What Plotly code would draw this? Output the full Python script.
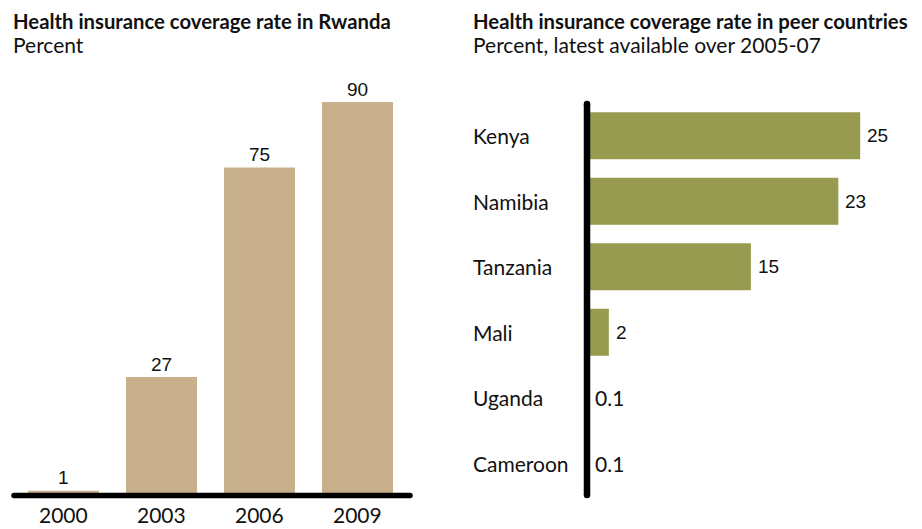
import plotly.graph_objects as go

# Rwanda coverage over time
years = ["2000", "2003", "2006", "2009"]
rwanda_pct = [1, 27, 75, 90]

# Peer countries, latest available 2005-07
countries = ["Kenya", "Namibia", "Tanzania", "Mali", "Uganda", "Cameroon"]
peer_pct = [25, 23, 15, 2, 0.1, 0.1]
peer_labels = ["25", "23", "15", "2", "0.1", "0.1"]

W, H = 922, 529
TAN = "#C7B08B"
OLIVE = "#969B50"
INK = "#111111"
LABEL_FONT = "Lato"
VALUE_FONT = "Liberation Sans"


def px(xp):
    return xp / W


def py(yp):
    return 1 - yp / H


fig = go.Figure()

fig.add_trace(go.Bar(
    x=years, y=rwanda_pct, marker=dict(color=TAN, line=dict(width=0)),
    width=0.724, xaxis="x", yaxis="y", hoverinfo="skip",
))
fig.add_trace(go.Bar(
    y=countries, x=peer_pct, orientation="h",
    marker=dict(color=OLIVE, line=dict(width=0)),
    width=0.72, xaxis="x2", yaxis="y2", hoverinfo="skip",
))

annotations = []

# Titles
annotations += [
    dict(x=px(11), y=py(7), xref="paper", yref="paper", xanchor="left", yanchor="top",
         text="<b>Health insurance coverage rate in Rwanda</b>", showarrow=False,
         font=dict(family=LABEL_FONT, size=20.3, color=INK)),
    dict(x=px(11), y=py(30), xref="paper", yref="paper", xanchor="left", yanchor="top",
         text="Percent", showarrow=False,
         font=dict(family=LABEL_FONT, size=21, color=INK)),
    dict(x=px(471), y=py(7), xref="paper", yref="paper", xanchor="left", yanchor="top",
         text="<b>Health insurance coverage rate in peer countries</b>", showarrow=False,
         font=dict(family=LABEL_FONT, size=20.3, color=INK)),
    dict(x=px(471), y=py(30), xref="paper", yref="paper", xanchor="left", yanchor="top",
         text="Percent, latest available over 2005-07", showarrow=False,
         font=dict(family=LABEL_FONT, size=21, color=INK)),
]

# Rwanda value labels and year labels (category positions by index)
for i, (yr, v) in enumerate(zip(years, rwanda_pct)):
    annotations.append(dict(x=i, y=v, xref="x", yref="y", yanchor="middle", yshift=13,
                            text=str(v), showarrow=False,
                            font=dict(family=VALUE_FONT, size=19, color=INK)))
    annotations.append(dict(x=i, y=0, xref="x", yref="paper", yanchor="bottom",
                            text=yr, showarrow=False,
                            font=dict(family=LABEL_FONT, size=21, color=INK)))

# Peer country names (left aligned) and value labels
for c, v, lab in zip(countries, peer_pct, peer_labels):
    annotations.append(dict(x=px(471), y=c, xref="paper", yref="y2", xanchor="left",
                            yanchor="middle", text=c, showarrow=False,
                            font=dict(family=LABEL_FONT, size=21, color=INK)))
    small = v < 1
    annotations.append(dict(x=v, y=c, xref="x2", yref="y2", xanchor="left", yanchor="middle",
                            xshift=5, text=lab, showarrow=False,
                            font=dict(family=LABEL_FONT if small else VALUE_FONT,
                                      size=21 if small else 19, color=INK)))


# Heavy axis lines with rounded ends, drawn in paper space so they are not clipped
def rounded_line(x0p, y0p, x1p, y1p, w):
    r = w / 2
    out = [dict(type="line", xref="paper", yref="paper",
                x0=px(x0p), y0=py(y0p), x1=px(x1p), y1=py(y1p),
                line=dict(color="black", width=w), layer="above")]
    for cx, cy in ((x0p, y0p), (x1p, y1p)):
        out.append(dict(type="circle", xref="paper", yref="paper",
                        x0=px(cx - r), x1=px(cx + r), y0=py(cy + r), y1=py(cy - r),
                        fillcolor="black", line=dict(width=0), layer="above"))
    return out


shapes = rounded_line(14, 495.5, 410, 495.5, 5.5) + rounded_line(587, 104, 587, 495, 6.5)

fig.update_layout(
    width=W, height=H,
    margin=dict(l=0, r=0, t=0, b=0),
    paper_bgcolor="white", plot_bgcolor="white",
    showlegend=False, barmode="group",
    xaxis=dict(domain=[px(12), px(412)], type="category", range=[-0.5255, 3.556],
               showticklabels=False, showgrid=False, zeroline=False, showline=False,
               fixedrange=True),
    yaxis=dict(domain=[py(495), py(102)], range=[0, 90], showticklabels=False,
               showgrid=False, zeroline=False, showline=False, fixedrange=True),
    xaxis2=dict(domain=[px(587), px(917)], range=[0, 30.2], anchor="y2",
                showticklabels=False, showgrid=False, zeroline=False, showline=False,
                fixedrange=True),
    yaxis2=dict(domain=[py(496), py(103)], type="category", range=[5.5, -0.5],
                anchor="x2", showticklabels=False, showgrid=False, zeroline=False,
                showline=False, fixedrange=True),
    annotations=annotations,
    shapes=shapes,
)

fig.write_html("out.html")
